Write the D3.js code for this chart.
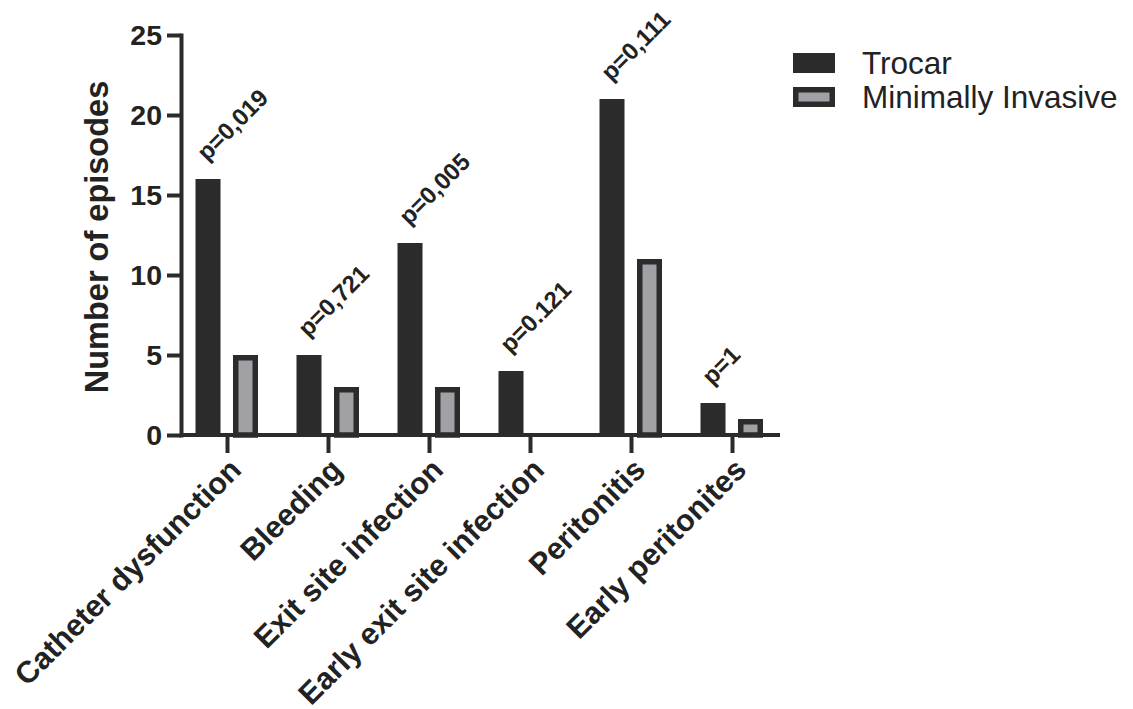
<!DOCTYPE html>
<html>
<head>
<meta charset="utf-8">
<script src="https://cdn.jsdelivr.net/npm/d3@7"></script>
<style>
  body { margin: 0; background: #fff; }
  text { font-family: 'Liberation Sans', Arial, sans-serif; fill: #222; }
</style>
</head>
<body>
<script>
const SVG_WIDTH = 1133;
const SVG_HEIGHT = 709;
const DARK = '#2b2b2b';
const GREY = '#a1a1a5';

// values
const categories = ['Catheter dysfunction', 'Bleeding', 'Exit site infection',
  'Early exit site infection', 'Peritonitis', 'Early peritonites'];
const trocar = [16, 5, 12, 4, 21, 2];
const minInvasive = [5, 3, 3, 0, 11, 1];
const pValues = ['p=0,019', 'p=0,721', 'p=0,005', 'p=0.121', 'p=0,111', 'p=1'];
const seriesNames = ['Trocar', 'Minimally Invasive'];
const yTicks = [0, 5, 10, 15, 20, 25];

const svg = d3.select('body').append('svg')
    .attr('width', SVG_WIDTH)
    .attr('height', SVG_HEIGHT);

const x = d3.scaleBand().domain(categories).range([177, 783]);
const x1 = d3.scaleBand().domain(seriesNames).range([18.5, 81]).paddingInner(0.333);
const y = d3.scaleLinear().domain([0, 25]).range([435, 35]);

const rows = categories.map((c, i) => ({
  category: c,
  p: pValues[i],
  values: [trocar[i], minInvasive[i]]
}));

// bars
const groups = svg.append('g').selectAll('g')
  .data(rows)
  .join('g')
    .attr('transform', d => `translate(${x(d.category)},0)`);

const SW = 5.5; // outline of the grey bars, drawn inside
groups.selectAll('rect')
  .data(d => d.values.map((v, k) => ({ key: seriesNames[k], v })).filter(e => e.v > 0))
  .join('rect')
    .attr('x', e => x1(e.key) + (e.key === 'Trocar' ? 0 : SW / 2))
    .attr('y', e => y(e.v) + (e.key === 'Trocar' ? 0 : SW / 2))
    .attr('width', e => x1.bandwidth() - (e.key === 'Trocar' ? 0 : SW))
    .attr('height', e => y(0) - y(e.v) - (e.key === 'Trocar' ? 0 : SW / 2))
    .attr('fill', e => e.key === 'Trocar' ? DARK : GREY)
    .attr('stroke', e => e.key === 'Trocar' ? 'none' : DARK)
    .attr('stroke-width', SW);

// p-value labels over the trocar bars
groups.append('text')
    .attr('transform', d => `translate(${x1('Trocar') + x1.bandwidth() / 2 - 1},${y(d.values[0]) - 17}) rotate(-45)`)
    .attr('font-size', 24)
    .attr('font-weight', 'bold')
    .text(d => d.p);

// y axis
const yAxis = svg.append('g')
    .attr('transform', 'translate(181,0)')
    .call(d3.axisLeft(y).tickValues(yTicks).tickSize(14).tickSizeOuter(0).tickPadding(5));
yAxis.select('.domain').attr('stroke', DARK).attr('stroke-width', 4).attr('stroke-linecap', 'square');
yAxis.selectAll('.tick line').attr('stroke', DARK).attr('stroke-width', 4);
yAxis.selectAll('.tick text')
    .attr('font-size', 28.5)
    .attr('font-weight', 'bold')
    .attr('fill', '#222');

// x axis
const xAxis = svg.append('g')
    .attr('transform', `translate(0,${y(0)})`)
    .call(d3.axisBottom(x).tickSize(18).tickSizeOuter(0));
xAxis.select('.domain').remove();
xAxis.append('line')
    .attr('x1', 181).attr('x2', 780)
    .attr('stroke', DARK).attr('stroke-width', 4);
xAxis.selectAll('.tick line').attr('stroke', DARK).attr('stroke-width', 4);
xAxis.selectAll('.tick text')
    .attr('font-size', 30.5)
    .attr('font-weight', 'bold')
    .attr('fill', '#222')
    .attr('text-anchor', 'end')
    .attr('y', 0)
    .attr('dy', '0.72em')
    .attr('transform', 'translate(0,21) rotate(-45)');

// y title
svg.append('text')
    .attr('transform', 'translate(108,237) rotate(-90)')
    .attr('text-anchor', 'middle')
    .attr('font-size', 32.5)
    .attr('font-weight', 'bold')
    .text('Number of episodes');

// legend
const legend = svg.append('g')
  .selectAll('g')
  .data(seriesNames)
  .join('g')
    .attr('transform', (d, i) => `translate(793,${53 + i * 34})`);

legend.append('rect')
    .attr('x', (d, i) => i ? SW / 2 : 0)
    .attr('y', (d, i) => i ? SW / 2 : 0)
    .attr('width', (d, i) => 42 - (i ? SW : 0))
    .attr('height', (d, i) => 20 - (i ? SW : 0))
    .attr('fill', (d, i) => i ? GREY : DARK)
    .attr('stroke', (d, i) => i ? DARK : 'none')
    .attr('stroke-width', SW);

legend.append('text')
    .attr('x', 69)
    .attr('y', 10)
    .attr('dy', '0.36em')
    .attr('font-size', 31.5)
    .text(d => d);
</script>
</body>
</html>
